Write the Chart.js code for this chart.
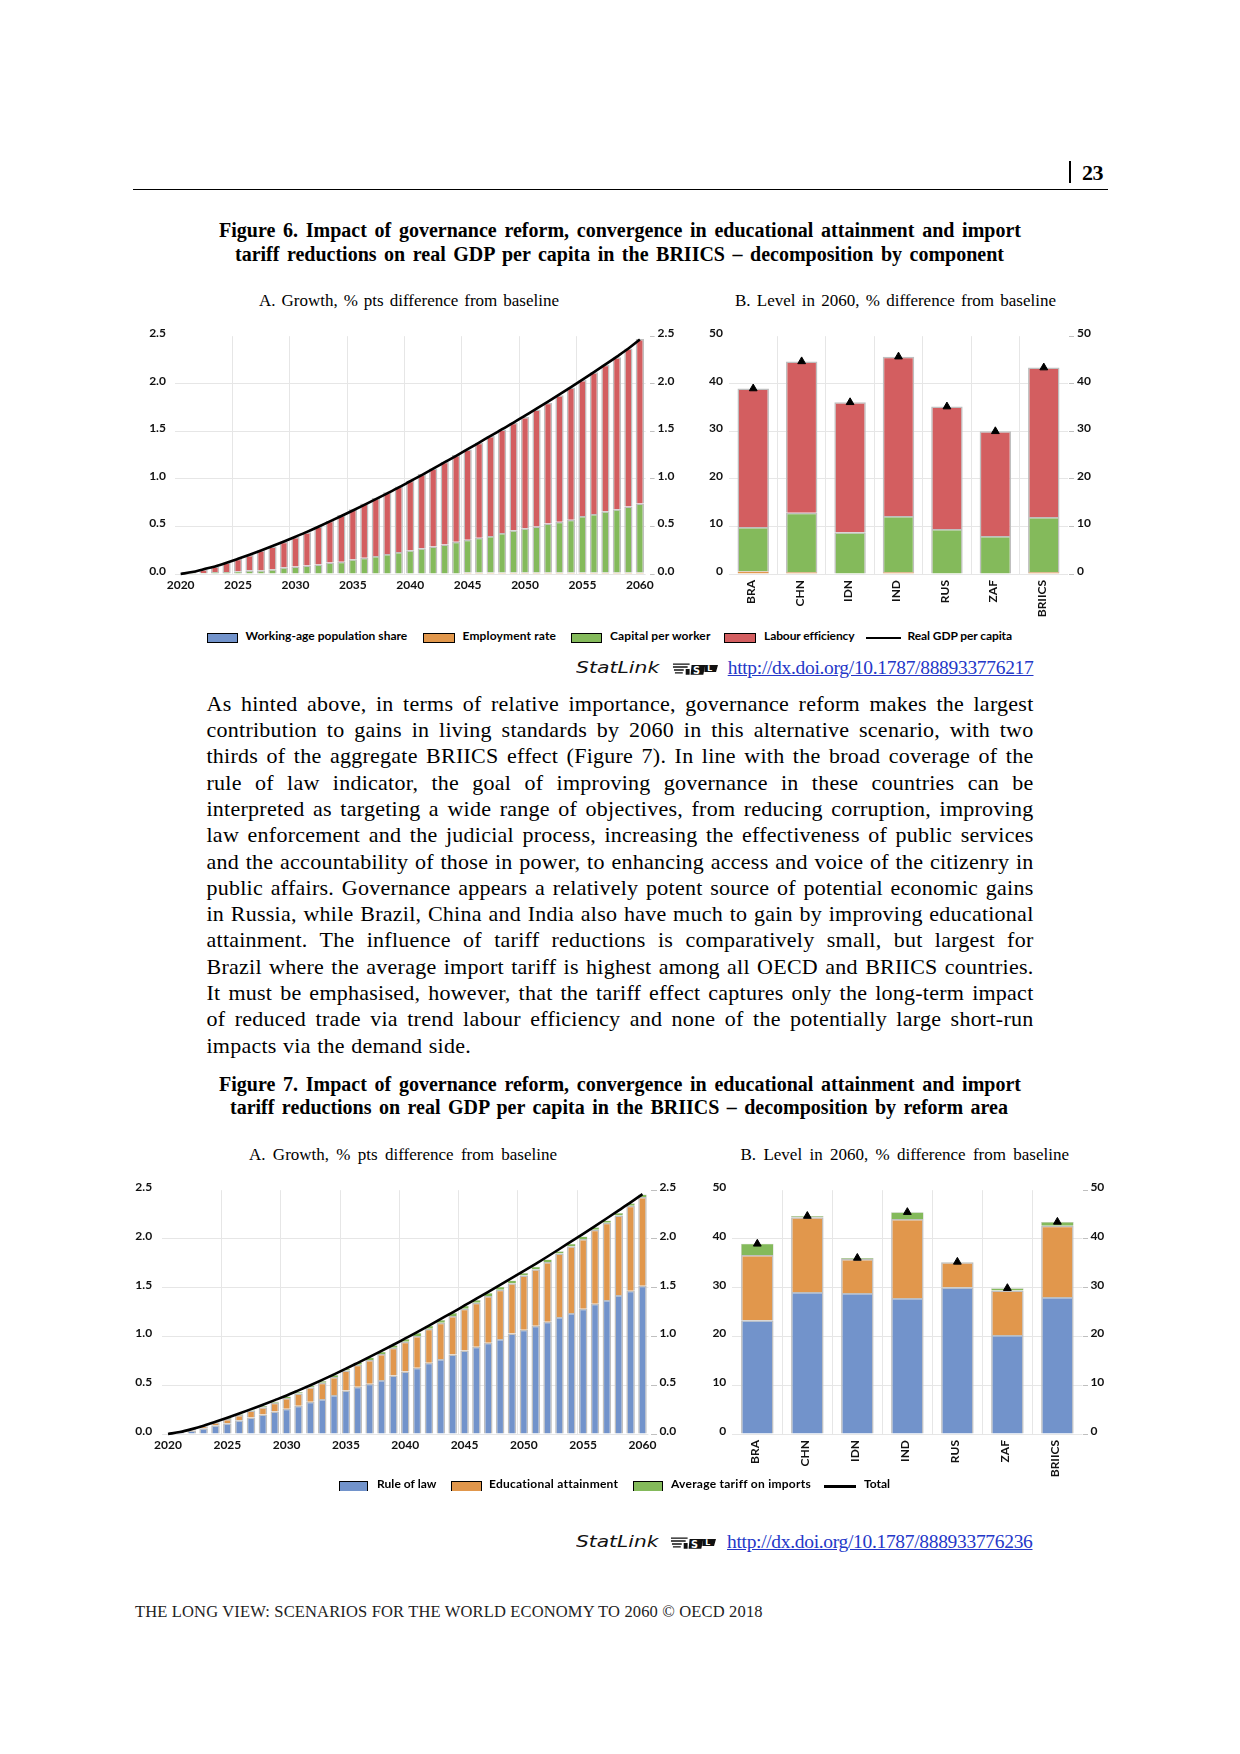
<!DOCTYPE html>
<html>
<head>
<meta charset="utf-8">
<title>Figure 6 and 7</title>
<script src="https://cdn.jsdelivr.net/npm/chart.js@4"></script>
<style>
html,body{margin:0;padding:0;background:#fff}
#page{position:relative;width:1240px;height:1754px;overflow:hidden;background:#fff}
#page canvas{position:absolute}
.t{position:absolute;white-space:nowrap;color:#000}
.box{position:absolute}
</style>
</head>
<body>
<div id="page"></div>
<script>
// data
const years = ['2020','2021','2022','2023','2024','2025','2026','2027','2028','2029','2030','2031','2032','2033','2034','2035','2036','2037','2038','2039','2040','2041','2042','2043','2044','2045','2046','2047','2048','2049','2050','2051','2052','2053','2054','2055','2056','2057','2058','2059','2060'];
const countries = ['BRA','CHN','IDN','IND','RUS','ZAF','BRIICS'];
const growthTicks = [0,0.5,1,1.5,2,2.5];
const levelTicks = [0,10,20,30,40,50];

// Figure 6 A
const f6aEmployment = [0,.005,.005,.005,.005,.005,.005,.005,.005,.005,.005,.005,.005,.005,.005,.005,.005,.005,.005,.005,.005,.005,.005,.005,.005,.015,.015,.015,.015,.015,.015,.015,.015,.015,.015,.015,.015,.015,.015,.015,.015];
const f6aCapital = [0,.005,.005,.015,.015,.025,.035,.035,.045,.065,.075,.085,.095,.115,.125,.15,.165,.185,.205,.225,.245,.265,.285,.305,.335,.345,.365,.385,.415,.445,.465,.485,.515,.535,.555,.595,.615,.645,.665,.695,.725];
const f6aLabour = [0,.01,.04,.06,.10,.13,.16,.21,.24,.27,.31,.35,.40,.44,.49,.525,.57,.61,.65,.69,.73,.78,.82,.87,.91,.95,1.00,1.05,1.09,1.13,1.17,1.23,1.27,1.33,1.39,1.43,1.49,1.54,1.60,1.66,1.73];
const f6aTotal = [0,.02,.05,.08,.118,.16,.203,.248,.294,.342,.392,.443,.497,.553,.61,.668,.727,.787,.848,.91,.975,1.04,1.107,1.175,1.243,1.312,1.382,1.452,1.522,1.592,1.665,1.738,1.812,1.888,1.965,2.043,2.122,2.203,2.285,2.37,2.465];

// Figure 6 B
const f6bEmployment = [.6,.4,.1,.4,.1,.1,.4];
const f6bCapital = [9.3,12.5,8.7,11.8,9.35,7.9,11.6];
const f6bLabour = [29.1,31.8,27.3,33.5,25.75,22,31.4];
const f6bTotal = [39,44.7,36.1,45.7,35.2,30,43.4];

// Figure 7 A
const f7aRule = [0,.01,.035,.06,.09,.11,.14,.17,.20,.23,.26,.29,.33,.36,.40,.445,.485,.515,.555,.60,.64,.68,.73,.77,.815,.857,.895,.935,.975,1.03,1.07,1.11,1.15,1.20,1.24,1.285,1.335,1.375,1.425,1.47,1.52];
const f7aEducation = [0,.01,.015,.02,.03,.045,.055,.07,.075,.09,.11,.125,.15,.165,.185,.205,.225,.245,.265,.285,.305,.325,.35,.37,.395,.428,.45,.48,.505,.515,.555,.58,.615,.65,.685,.715,.76,.79,.815,.87,.91];
const f7aTariff = [0,.002,.004,.005,.006,.008,.008,.01,.012,.012,.014,.015,.016,.018,.02,.02,.022,.024,.024,.026,.028,.03,.03,.03,.03,.03,.03,.03,.03,.03,.025,.025,.025,.025,.025,.025,.025,.025,.025,.025,.025];
const f7aTotal = [0,.02,.05,.085,.125,.167,.21,.255,.3,.347,.395,.447,.5,.555,.612,.67,.73,.79,.852,.915,.98,1.045,1.112,1.18,1.248,1.318,1.388,1.458,1.53,1.6,1.672,1.745,1.82,1.897,1.975,2.053,2.132,2.212,2.293,2.375,2.46];

// Figure 7 B
const f7bRule = [23.35,29.1,28.9,27.9,30.1,20.3,28.1];
const f7bEducation = [13.35,15.35,7,16.2,5.1,9.15,14.6];
const f7bTariff = [2.3,.25,.2,1.4,.1,.45,.8];
const f7bTotal = [39,44.7,36.1,45.5,35.3,29.9,43.5];

const BLUE='#7293CB', ORANGE='#E1974C', GREEN='#84BA5B', RED='#D35E60', EDGE='#BFBFBF', GRID='#E6E6E6';
const SERIF='"Liberation Serif", serif', SANS='Lato, "Open Sans", sans-serif';

const page = document.getElementById('page');

function bar(label, data, color, pct, edge){
  return { type:'bar', label, data, backgroundColor:color, borderColor:EDGE, borderWidth:edge===undefined?1.5:edge,
    yAxisID:'y', order:1, categoryPercentage:1, barPercentage:pct };
}
function totalLine(label, data){
  return { type:'line', label, data, borderColor:'#000', borderWidth:2.6, pointRadius:0, cubicInterpolationMode:'monotone', yAxisID:'y', order:0, clip:false };
}
function totalMarks(label, data){
  return { type:'line', label, data, showLine:false, pointStyle:'triangle', pointRadius:4.5, pointBackgroundColor:'#000', pointBorderColor:'#000', pointBorderWidth:1, yAxisID:'y', order:0, clip:false };
}

function chartConfig(b, labels, datasets, yTicks, o){
  const font = { family:SANS, size:12, weight:'bold' };
  const ymax = yTicks[yTicks.length-1];
  const fmt = v => o.decimals ? v.toFixed(1) : String(v);
  const last = labels.length - (o.every>1 ? 1 : 0);
  return {
    data:{ labels, datasets },
    options:{
      responsive:false, animation:false,
      plugins:{ legend:{display:false}, tooltip:{enabled:false} },
      scales:{
        x:{ stacked:true, offset:true,
          grid:{ offset:true, drawTicks:false, lineWidth:1,
            color:ctx=> (ctx.index>0 && ctx.index%o.every===0 && ctx.index<last) ? GRID : 'transparent' },
          border:{ display:false },
          afterFit:s=>{ s.height = b.bottom-b.plotBottom; },
          ticks:{ autoSkip:false, padding:o.xPad, labelOffset:o.xOffset, color:'#111', font,
            minRotation:o.rotate, maxRotation:o.rotate,
            callback(v,i){ return i%o.every===0 ? this.getLabelForValue(v) : ''; } } },
        y:{ stacked:true, position:'left', min:0, max:ymax,
          afterBuildTicks:s=>{ s.ticks = yTicks.map(v=>({value:v})); },
          afterFit:s=>{ s.width = b.plotLeft-b.left; },
          border:{ display:false },
          grid:{ drawTicks:false, lineWidth:1, color:ctx=> ctx.tick && ctx.tick.value===ymax ? 'transparent' : GRID },
          ticks:{ padding:o.leftPad, labelOffset:-3, color:'#111', font, callback:fmt } },
        yr:{ type:'linear', position:'right', min:0, max:ymax,
          afterBuildTicks:s=>{ s.ticks = yTicks.map(v=>({value:v})); },
          afterFit:s=>{ s.width = b.right-b.plotRight; },
          border:{ display:false },
          grid:{ drawOnChartArea:false, tickLength:o.tickLen, tickColor:EDGE, tickWidth:1, tickBorderDash:o.tickDash },
          ticks:{ padding:o.rightPad, labelOffset:-3, color:'#111', font, callback:fmt } }
      }
    }
  };
}

// b: canvas box + plot area in page pixels
function makeChart(b, labels, datasets, yTicks, o){
  const c = document.createElement('canvas');
  const W = b.right-b.left;
  function size(top){
    const H = b.bottom-top;
    c.width = W; c.height = H;
    c.style.left = b.left+'px'; c.style.top = top+'px'; c.style.width = W+'px'; c.style.height = H+'px';
  }
  page.appendChild(c);
  size(b.plotTop-20);
  // the top tick label and its padding reserve room above the plot, so measure it
  // and slide the canvas up until the plot starts where it should
  const probe = new Chart(c, chartConfig(b, labels, datasets, yTicks, o));
  const over = probe.chartArea.top;
  probe.destroy();
  size(b.plotTop-over);
  new Chart(c, chartConfig(b, labels, datasets, yTicks, o));
}

makeChart({left:130,right:680,bottom:600,plotLeft:174.9,plotRight:645.6,plotTop:336,plotBottom:574}, years,
  [bar('Working-age population share',years.map(()=>0),BLUE,.72),
   bar('Employment rate',f6aEmployment,ORANGE,.72,.5),
   bar('Capital per worker',f6aCapital,GREEN,.72),
   bar('Labour efficiency',f6aLabour,RED,.72),
   totalLine('Real GDP per capita',f6aTotal)],
  growthTicks,{decimals:true,every:5,rotate:0,xPad:4,xOffset:0,leftPad:9,rightPad:3,tickLen:9,tickDash:[0,4,5,50]});

makeChart({left:695,right:1100,bottom:625,plotLeft:729,plotRight:1068,plotTop:336,plotBottom:574}, countries,
  [bar('Working-age population share',countries.map(()=>0),BLUE,.65),
   bar('Employment rate',f6bEmployment,ORANGE,.65,.5),
   bar('Capital per worker',f6bCapital,GREEN,.65),
   bar('Labour efficiency',f6bLabour,RED,.65),
   totalMarks('Real GDP per capita',f6bTotal)],
  levelTicks,{decimals:false,every:1,rotate:90,xPad:6,xOffset:-2,leftPad:6,rightPad:3,tickLen:6,tickDash:[0,1,5,50]});

makeChart({left:120,right:685,bottom:1460,plotLeft:162.1,plotRight:648.4,plotTop:1190,plotBottom:1434}, years,
  [bar('Rule of law',f7aRule,BLUE,.72),
   bar('Educational attainment',f7aEducation,ORANGE,.72),
   bar('Average tariff on imports',f7aTariff,GREEN,.72,.5),
   totalLine('Total',f7aTotal)],
  growthTicks,{decimals:true,every:5,rotate:0,xPad:4,xOffset:0,leftPad:10,rightPad:2,tickLen:9,tickDash:[0,3,6,50]});

makeChart({left:700,right:1115,bottom:1480,plotLeft:732.3,plotRight:1082.4,plotTop:1190,plotBottom:1434}, countries,
  [bar('Rule of law',f7bRule,BLUE,.65),
   bar('Educational attainment',f7bEducation,ORANGE,.65),
   bar('Average tariff on imports',f7bTariff,GREEN,.65,.5),
   totalMarks('Total',f7bTotal)],
  levelTicks,{decimals:false,every:1,rotate:90,xPad:6,xOffset:-2,leftPad:6,rightPad:2,tickLen:6,tickDash:[0,1,5,50]});

// page text: x1..x2 is the width the line takes in the reference, y the baseline.
// fit: 'words' spreads the spaces, 'letters' the letters, 'stretch' scales the glyphs
function put(text, x1, x2, y, css, fit){
  const el = document.createElement('div');
  el.className = 't'; el.textContent = text;
  el.style.cssText = css; el.style.left = x1+'px'; el.style.top = '0px';
  page.appendChild(el);
  const w = el.getBoundingClientRect().width;
  const gaps = (text.match(/ /g)||[]).length;
  if (fit==='letters') el.style.letterSpacing = ((x2-x1-w)/text.length)+'px';
  else if (fit==='stretch'){ el.style.transformOrigin = 'left'; el.style.transform = `scaleX(${(x2-x1)/w})`; }
  else el.style.wordSpacing = ((x2-x1-w)/gaps)+'px';
  const mark = document.createElement('span');
  mark.style.cssText = 'display:inline-block;width:0;height:0';
  el.appendChild(mark);
  const off = mark.getBoundingClientRect().bottom - el.getBoundingClientRect().top;
  el.removeChild(mark);
  el.style.top = (y-off)+'px';
  return el;
}
function rect(x, y, w, h, css){
  const d = document.createElement('div');
  d.className = 'box';
  d.style.cssText = `left:${x}px;top:${y}px;width:${w}px;height:${h}px;`+css;
  page.appendChild(d);
}
const body = `font:22px ${SERIF};letter-spacing:.25px;`;
const title = `font:bold 20px ${SERIF};`;
const sub = `font:17px ${SERIF};`;
const leg = `font:bold 12px ${SANS};`;
const link = `font:19.5px ${SERIF};color:#2437c8;`;
const stat = `font:oblique 15px "DejaVu Sans", sans-serif;color:#111;`;

// header
rect(1069,161,2,22,'background:#000');
put('23',1082,1103,180,`font:bold 22px ${SERIF};`,'letters');
rect(133,189,975,1,'background:#000');

// figure 6 text
put('Figure 6. Impact of governance reform, convergence in educational attainment and import',219,1021,237,title);
put('tariff reductions on real GDP per capita in the BRIICS – decomposition by component',235,1004,261,title);
put('A. Growth, % pts difference from baseline',259,559,306,sub);
put('B. Level in 2060, % difference from baseline',735,1056,306,sub);

function swatch(x1, x2, y1, y2, color, open){
  rect(x1,y1,x2-x1-3,y2-y1-(open?1.5:3),`background:${color};border:1.5px solid #000;`+(open?'border-bottom:none;':''));
}
swatch(206.6,239,632.7,644.3,BLUE);
put('Working-age population share',245.5,407.5,640,leg,'letters');
swatch(423,456,632.7,644.3,ORANGE);
put('Employment rate',462.5,556,640,leg,'letters');
swatch(570.7,603.4,632.7,644.3,GREEN);
put('Capital per worker',610,710.5,640,leg,'letters');
swatch(724,757,632.7,644.3,RED);
put('Labour efficiency',764,854,640,leg,'letters');
rect(866,637,35,1.8,'background:#000');
put('Real GDP per capita',907.5,1012,640,leg,'letters');

function statlink(x, x2, y, url, iconX, linkX, linkX2){
  put('StatLink',x,x2,y-1,stat,'stretch');
  const s = document.createElementNS('http://www.w3.org/2000/svg','svg');
  s.setAttribute('viewBox','0 0 47 14');
  s.style.cssText = `position:absolute;left:${iconX}px;top:${y-12}px;width:46px;height:14px`;
  s.innerHTML = '<path d="M1 2h17M1 5h15M2 8h10M3 11h8" stroke="#111" stroke-width="1.4" fill="none"/>'+
    '<path d="M14 7h4v6h-4zM20 3h14l-2 10H19z M34 3h13l-2 7H33z" fill="#111"/>'+
    '<text x="21.5" y="12" font-family="DejaVu Sans" font-size="10" font-weight="bold" fill="#fff">S</text>'+
    '<text x="36" y="9" font-family="DejaVu Sans" font-size="8" font-weight="bold" fill="#fff">L</text>';
  page.appendChild(s);
  const a = put(url,linkX,linkX2,y,link,'letters');
  a.style.textDecoration = 'underline';
}
statlink(575.7,659,674,'http://dx.doi.org/10.1787/888933776217',672,727.7,1033.5);

// paragraph, one div per line so the breaks stay as in the reference
const paragraphLines = [
  'As hinted above, in terms of relative importance, governance reform makes the largest',
  'contribution to gains in living standards by 2060 in this alternative scenario, with two',
  'thirds of the aggregate BRIICS effect (Figure 7). In line with the broad coverage of the',
  'rule of law indicator, the goal of improving governance in these countries can be',
  'interpreted as targeting a wide range of objectives, from reducing corruption, improving',
  'law enforcement and the judicial process, increasing the effectiveness of public services',
  'and the accountability of those in power, to enhancing access and voice of the citizenry in',
  'public affairs. Governance appears a relatively potent source of potential economic gains',
  'in Russia, while Brazil, China and India also have much to gain by improving educational',
  'attainment. The influence of tariff reductions is comparatively small, but largest for',
  'Brazil where the average import tariff is highest among all OECD and BRIICS countries.',
  'It must be emphasised, however, that the tariff effect captures only the long-term impact',
  'of reduced trade via trend labour efficiency and none of the potentially large short-run',
  'impacts via the demand side.'
];
paragraphLines.forEach((l,i)=>{
  const end = i===paragraphLines.length-1 ? 471 : 1033.5;
  put(l,206.5,end,710.7+i*26.3,body);
});

// figure 7 text
put('Figure 7. Impact of governance reform, convergence in educational attainment and import',219,1021,1090.7,title);
put('tariff reductions on real GDP per capita in the BRIICS – decomposition by reform area',230,1008,1114,title);
put('A. Growth, % pts difference from baseline',249,557,1160,sub);
put('B. Level in 2060, % difference from baseline',740.5,1069,1160,sub);

swatch(338.8,369.4,1480.7,1492,BLUE,true);
put('Rule of law',377,436.5,1488,leg,'letters');
swatch(451,482.7,1480.7,1492,ORANGE,true);
put('Educational attainment',489,618,1488,leg,'letters');
swatch(632.6,664,1480.7,1492,GREEN,true);
put('Average tariff on imports',671,810.6,1488,leg,'letters');
rect(824,1485,32,2.5,'background:#000');
put('Total',864,890,1488,leg,'letters');

statlink(575.6,658,1547.7,'http://dx.doi.org/10.1787/888933776236',670,727,1032.5);

put('THE LONG VIEW: SCENARIOS FOR THE WORLD ECONOMY TO 2060 © OECD 2018',135,762.7,1616.7,`font:16.5px ${SERIF};color:#222;`,'letters');
</script>
</body>
</html>
